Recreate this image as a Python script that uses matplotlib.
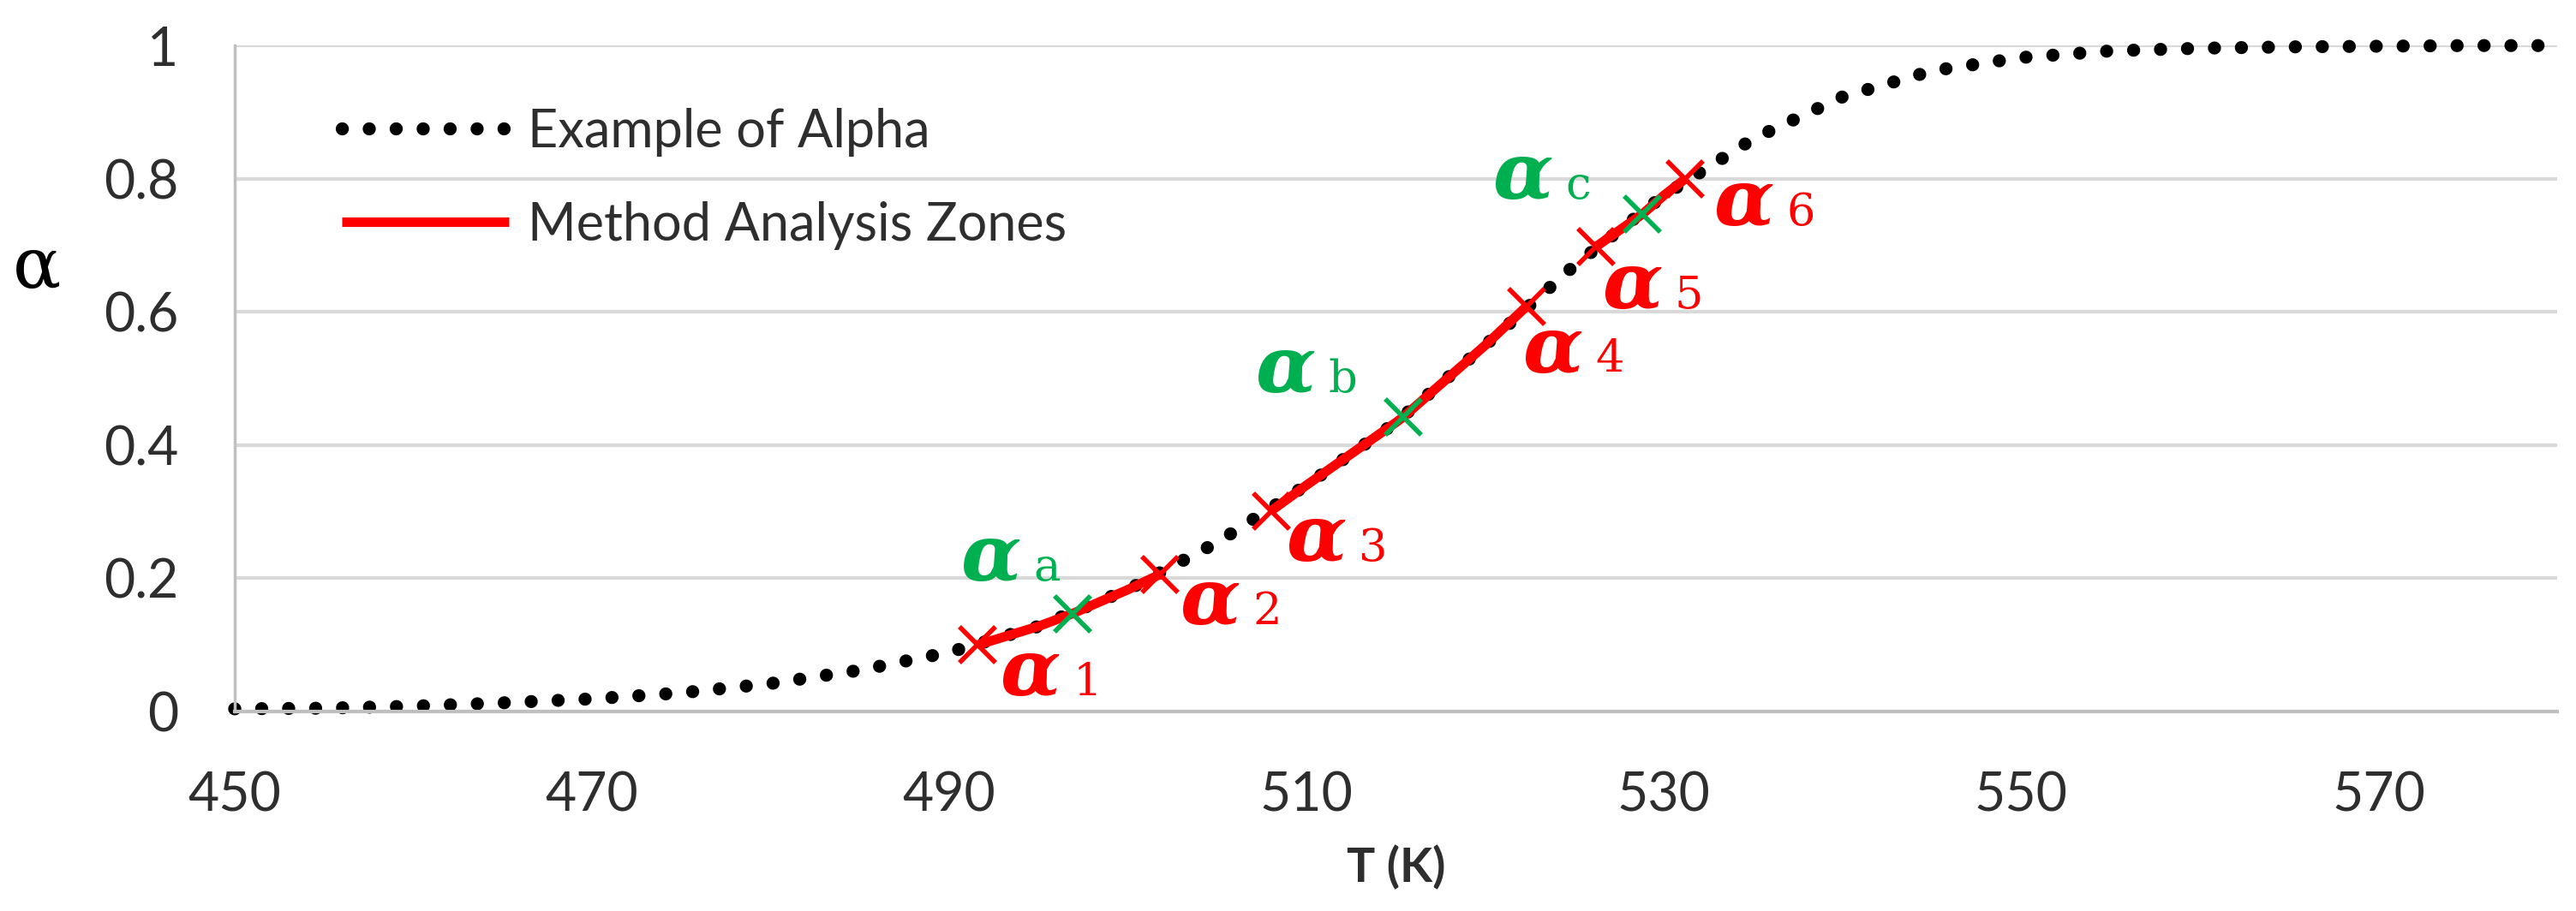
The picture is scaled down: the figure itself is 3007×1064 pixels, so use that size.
import matplotlib
matplotlib.use('Agg')
import matplotlib.pyplot as plt

# conversion curve
T = [450, 455, 460, 465, 470, 475, 480, 485, 490, 495, 500, 505, 510, 515,
     520, 525, 530, 535, 540, 545, 550, 555, 560, 565, 570, 575, 580]
alpha = [0.004, 0.005, 0.008, 0.013, 0.019, 0.028, 0.042, 0.062, 0.089, 0.128,
         0.183, 0.254, 0.340, 0.434, 0.550, 0.670, 0.775, 0.860, 0.923, 0.962,
         0.982, 0.992, 0.996, 0.998, 0.999, 1.0, 1.0]

# zone limits (red) and mid points (green)
zone_T = [491.6, 501.8, 508.0, 522.3, 526.2, 531.2]
zone_alpha = [0.100, 0.206, 0.301, 0.608, 0.698, 0.800]
zone_names = ['1', '2', '3', '4', '5', '6']

mid_T = [496.9, 515.4, 528.8]
mid_alpha = [0.147, 0.442, 0.747]
mid_names = ['a', 'b', 'c']

xticks = [450, 470, 490, 510, 530, 550, 570]
yticks = [0, 0.2, 0.4, 0.6, 0.8, 1]
ytick_labels = ['0', '0.2', '0.4', '0.6', '0.8', '1']

RED = '#ff0000'
GREEN = '#00b050'
TXT = '#2e2e2e'
sans = ['Lato', 'DejaVu Sans']
serif = ['DejaVu Serif']

fig = plt.figure(figsize=(30.07, 10.64), dpi=100)
ax = fig.add_axes([0.0911, 0.219, 0.9016, 0.731])

ax.plot(T, alpha, color='black', lw=11, linestyle=(0, (0.01, 2.05)),
        dash_capstyle='round', clip_on=False, label='Example of Alpha', zorder=2)

# red zones follow the curve between each pair of limits
for k in range(0, len(zone_T), 2):
    t0, t1 = zone_T[k], zone_T[k + 1]
    pts = [(t0, zone_alpha[k])]
    pts += [(t, a) for t, a in zip(mid_T, mid_alpha) if t0 < t < t1]
    pts += [(t, a) for t, a in zip(T, alpha) if t0 < t < t1]
    pts.append((t1, zone_alpha[k + 1]))
    pts.sort()
    ax.plot([p[0] for p in pts], [p[1] for p in pts], color=RED, lw=8,
            solid_capstyle='butt', zorder=3,
            label='Method Analysis Zones' if k == 0 else None)

ax.plot(zone_T, zone_alpha, 'x', color=RED, ms=30, mew=4, zorder=4)
ax.plot(mid_T, mid_alpha, 'x', color=GREEN, ms=30, mew=4, zorder=5)

# labels: offset (points) of the alpha glyph from its marker
zone_off = [(19, -42), (17, -42), (13, -42), (-3, -55), (5, -52), (24, -39)]
mid_off = [(-94, 28), (-124, 21), (-126, 13)]


def tag(x, y, sub, off, color):
    ax.annotate('α', (x, y), xytext=off, textcoords='offset points',
                ha='left', va='baseline', fontsize=66, color=color,
                family=serif, fontweight='bold', fontstyle='italic', zorder=6)
    ax.annotate(sub, (x, y), xytext=(off[0] + 61, off[1]),
                textcoords='offset points', ha='left', va='baseline',
                fontsize=38, color=color, family=serif, zorder=6)


for x, y, s, o in zip(zone_T, zone_alpha, zone_names, zone_off):
    tag(x, y, s, o, RED)
for x, y, s, o in zip(mid_T, mid_alpha, mid_names, mid_off):
    tag(x, y, s, o, GREEN)

ax.set_xlim(450, 580)
ax.set_ylim(0, 1)
ax.set_xticks(xticks)
ax.set_yticks(yticks)
ax.set_yticklabels(ytick_labels)
ax.tick_params(length=0, labelsize=45, labelcolor=TXT)
ax.tick_params(axis='x', pad=50)
ax.tick_params(axis='y', pad=47)
for lab in ax.get_xticklabels() + ax.get_yticklabels():
    lab.set_family(sans)

ax.yaxis.grid(True, color='#d9d9d9', lw=3)
ax.set_axisbelow(True)
for s in ['top', 'right']:
    ax.spines[s].set_visible(False)
ax.spines['left'].set_color('#c0c0c0')
ax.spines['left'].set_linewidth(2.5)
ax.spines['bottom'].set_color('#bfbfbf')
ax.spines['bottom'].set_linewidth(3)

ax.set_xlabel('T (K)', fontsize=40, fontweight='bold', color=TXT, family=sans,
              labelpad=20)
ax.set_ylabel('α', rotation=0, fontsize=60, color='black', family=serif,
              ha='center', va='center')
ax.yaxis.set_label_coords(-0.085, 0.665)

leg = ax.legend(loc='center left', bbox_to_anchor=(0.046, 0.80), frameon=False,
                prop={'family': sans, 'size': 44}, handlelength=3.2,
                handletextpad=0.35, labelspacing=0.85, borderpad=0,
                borderaxespad=0)
for t in leg.get_texts():
    t.set_color(TXT)

fig.savefig('out.png', dpi=100)
